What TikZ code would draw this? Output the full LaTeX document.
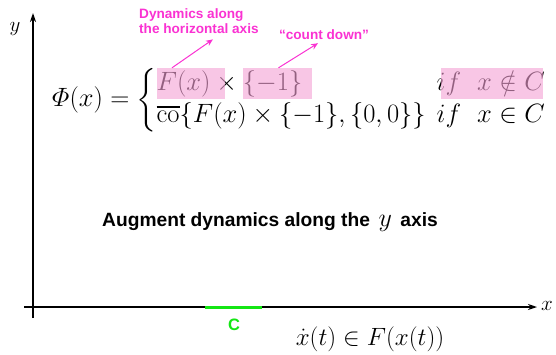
\RequirePackage{fix-cm}
\documentclass[tikz,border=0pt]{standalone}
\usepackage{amsmath,amssymb}
\usepackage{fontspec}
\newfontfamily\arialfont{Liberation Sans}
\usepackage{tikz}
\usetikzlibrary{arrows.meta,positioning}
\definecolor{notepink}{RGB}{250,50,210}
\definecolor{hlpink}{RGB}{244,160,212}
\definecolor{cgreen}{RGB}{20,230,20}

\begin{document}
\begin{tikzpicture}[>={Stealth[length=9pt,width=6pt]}, x=1pt, y=-1pt,
  axis/.style={line width=1.4pt},
  hlbox/.style={fill=hlpink, fill opacity=0.6, inner sep=0pt},
  note/.style={text=notepink, font=\arialfont\bfseries\fontsize{13.6}{15}\selectfont, inner sep=1pt},
  notearrow/.style={->, notepink, line width=1pt, >={Stealth[length=7pt,width=6pt]}}]
\useasboundingbox (0,0) rectangle (556,354);
% Axes
\coordinate (ybot) at (33,318);
\coordinate (ytop) at (33,13);
\coordinate (xleft) at (24,307);
\coordinate (xright) at (537,307);
\draw[axis, ->] (ybot) -- (ytop);
\draw[axis, ->] (xleft) -- (xright);
\node (ylab) at (15,29) {\fontsize{21}{24}\selectfont$y$};
\node (xlab) at (547,306) {\fontsize{21}{24}\selectfont$x$};

% The set C
\coordinate (cleft) at (205,307);
\coordinate (cright) at (262,307);
\draw[cgreen, line width=3pt] (cleft) -- (cright);
\node[text=cgreen, font=\arialfont\bfseries\fontsize{16.5}{18}\selectfont] (clab) at (234,325) {C};

% Augmented dynamics
\node[anchor=west, inner sep=0pt] (phi) at (52,100) {\fontsize{26.5}{32}\selectfont
  $\varPhi(x) = \left\{\begin{array}{@{}l@{\hspace{11pt}}l@{}}
  F(x)\times\{-1\} & if\ \ x\notin C\\
  \overline{\mathrm{co}}\{F(x)\times\{-1\},\{0,0\}\} & if\ \ x\in C
  \end{array}\right.$};
\node[hlbox, minimum width=68, minimum height=31] (hlF) at (191,83.5) {};
\node[hlbox, minimum width=69, minimum height=31] (hlM) at (277.5,83.5) {};
\node[hlbox, minimum width=102, minimum height=31] (hlC) at (492,83.5) {};

% Notes
\node[note, align=left, anchor=north west] (dyn) at (138,7) {Dynamics along\\the horizontal axis};
\node[note] (cnt) at (324,35) {“count down”};
\draw[notearrow] ([xshift=-19pt]hlF.north) -- ([xshift=14pt,yshift=-5pt]dyn.south);
\draw[notearrow] ([xshift=1pt]hlM.north) -- ([xshift=-6pt,yshift=-2pt]cnt.south);

% Labels
\node[font=\arialfont\bfseries\fontsize{19.2}{22}\selectfont] (aug) at (270,222)
  {Augment dynamics along the \,{\fontsize{26}{28}\selectfont$y$}\, axis};
\node (dotx) at (370,339) {\fontsize{25}{28}\selectfont$\dot{x}(t)\in F(x(t))$};
\end{tikzpicture}
\end{document}
